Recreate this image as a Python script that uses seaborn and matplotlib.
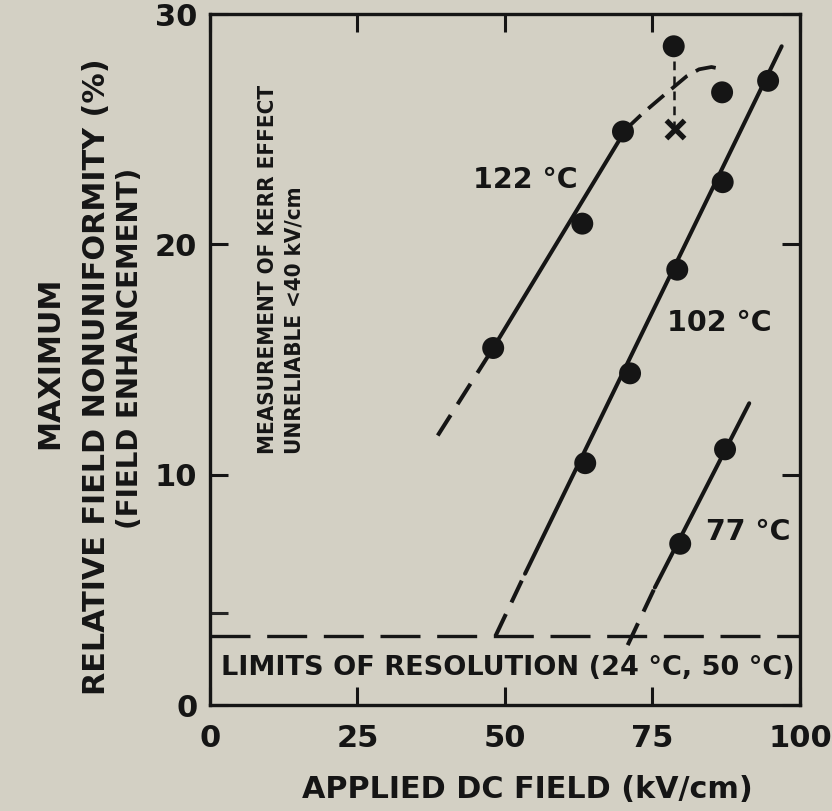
import numpy as np
import pandas as pd
import matplotlib
matplotlib.use("Agg")
import matplotlib.pyplot as plt
import seaborn as sns

# ---------------- data ----------------
x_ticks = [0, 25, 50, 75, 100]
y_ticks = [0, 10, 20, 30]

# measured points
pts122_x = [48.0, 63.1, 70.0, 78.6, 86.8]
pts122_y = [15.5, 20.9, 24.9, 28.6, 26.6]
cross_x = [78.8]
cross_y = [25.0]
pts102_x = [63.6, 71.2, 79.2, 86.9, 94.6]
pts102_y = [10.5, 14.4, 18.9, 22.7, 27.1]
pts77_x = [79.7, 87.3]
pts77_y = [7.0, 11.1]

# hand-drawn trend lines
fit122_solid_x = [48.0, 70.5]
fit122_solid_y = [15.5, 25.0]
fit122_low_x = [38.6, 48.0]
fit122_low_y = [11.7, 15.5]
fit122_curve_x = [70.5, 73.4, 76.6, 80.8, 82.9, 85.0, 86.9]
fit122_curve_y = [25.0, 25.7, 26.4, 27.3, 27.6, 27.7, 27.6]
link_x = [78.7, 78.7]
link_y = [28.6, 25.0]
fit102_solid_x = [53.4, 96.9]
fit102_solid_y = [5.7, 28.6]
fit102_low_x = [48.4, 53.4]
fit102_low_y = [3.0, 5.7]
fit77_solid_x = [75.4, 91.4]
fit77_solid_y = [5.1, 13.1]
fit77_low_x = [70.8, 75.4]
fit77_low_y = [2.6, 5.1]
resolution_x = [0, 100]
resolution_y = [3.0, 3.0]

labels = ["122 °C", "102 °C", "77 °C"]
label_x = [53.4, 86.4, 91.2]
label_y = [22.8, 16.6, 7.5]

# ---------------- style ----------------
BG = "#d3d0c4"
INK = "#151515"
sns.set_theme(style="ticks")
plt.rcParams["font.family"] = ["DejaVu Sans"]
plt.rcParams["text.color"] = INK

fig = plt.figure(figsize=(8.32, 8.11), dpi=100, facecolor=BG)
ax = fig.add_axes([0.2524, 0.1307, 0.7091, 0.852])
ax.set_facecolor(BG)

def seg(xs, ys, ls="-", lw=2.9):
    df = pd.DataFrame({"x": xs, "y": ys})
    sns.lineplot(data=df, x="x", y="y", ax=ax, color=INK, lw=lw,
                 linestyle=ls, estimator=None, sort=False,
                 solid_capstyle="round", dash_capstyle="butt")

seg(fit122_solid_x, fit122_solid_y)
seg(fit122_low_x, fit122_low_y, ls=(0, (6.0, 3.2)))
seg(fit122_curve_x, fit122_curve_y, ls=(0, (5.5, 2.6)), lw=2.7)
seg(link_x, link_y, ls=(0, (3.5, 2.5)), lw=1.8)
seg(fit102_solid_x, fit102_solid_y)
seg(fit102_low_x, fit102_low_y, ls=(0, (6.0, 3.2)))
seg(fit77_solid_x, fit77_solid_y)
seg(fit77_low_x, fit77_low_y, ls=(0, (6.0, 3.2)))
seg(resolution_x, resolution_y, ls=(0, (12.0, 5.0)), lw=2.4)

pts = pd.DataFrame({
    "x": pts122_x + pts102_x + pts77_x,
    "y": pts122_y + pts102_y + pts77_y,
})
sns.scatterplot(data=pts, x="x", y="y", ax=ax, color=INK, s=250,
                edgecolor="none", zorder=5)
sns.scatterplot(x=cross_x, y=cross_y, ax=ax, color=INK, marker="x",
                s=170, linewidth=3.8, zorder=5)

for t, x, y in zip(labels, label_x, label_y):
    ax.text(x, y, t, ha="center", va="center", fontsize=20.5,
            fontweight="bold", color=INK)

ax.text(50.5, 1.6, "LIMITS OF RESOLUTION (24 °C, 50 °C)", ha="center",
        va="center", fontsize=19.5, fontweight="bold", color=INK)
ax.text(9.9, 10.9, "MEASUREMENT OF KERR EFFECT", rotation=90,
        ha="center", va="bottom", fontsize=16, fontweight="bold",
        fontstretch="condensed", color=INK)
ax.text(14.4, 10.9, "UNRELIABLE <40 kV/cm", rotation=90,
        ha="center", va="bottom", fontsize=16, fontweight="bold",
        fontstretch="condensed", color=INK)

ax.set_xlim(0, 100)
ax.set_ylim(0, 30)
ax.set_xticks(x_ticks)
ax.set_yticks(y_ticks)
ax.set_xticklabels([str(v) for v in x_ticks])
ax.set_yticklabels([str(v) for v in y_ticks])
ax.set_yticks([4], minor=True)
ax.tick_params(axis="both", which="major", direction="in", length=13,
               width=2.2, top=True, right=True, labelsize=22, pad=9,
               colors=INK)
ax.tick_params(axis="y", which="minor", direction="in", length=13,
               width=2.2, left=True, right=False, labelleft=False)
ax.tick_params(axis="x", which="major", pad=14)
for lab in ax.get_xticklabels() + ax.get_yticklabels():
    lab.set_fontweight("bold")
for sp in ax.spines.values():
    sp.set_visible(True)
    sp.set_linewidth(2.4)
    sp.set_color(INK)
ax.set_xlabel("")
ax.set_ylabel("")

fig.text(527 / 832, 1 - 790 / 811, "APPLIED DC FIELD (kV/cm)", ha="center",
         va="center", fontsize=21.8, fontweight="bold", color=INK)
fig.text(50 / 832, 1 - 363 / 811, "MAXIMUM", rotation=90, ha="center",
         va="center", fontsize=21.8, fontweight="bold", color=INK)
fig.text(97 / 832, 1 - 377 / 811, "RELATIVE FIELD NONUNIFORMITY (%)",
         rotation=90, ha="center", va="center", fontsize=21.8,
         fontweight="bold", color=INK)
fig.text(130 / 832, 1 - 348 / 811, "(FIELD ENHANCEMENT)", rotation=90,
         ha="center", va="center", fontsize=20, fontweight="bold", color=INK)

fig.savefig("out.png", dpi=100, facecolor=BG)
